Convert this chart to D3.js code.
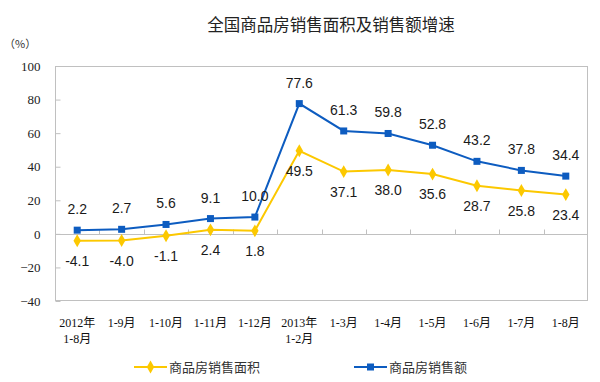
<!DOCTYPE html>
<html><head><meta charset="utf-8">
<script src="https://cdn.jsdelivr.net/npm/d3@7"></script>
<style>body{margin:0;background:#fff;}svg{display:block;}</style>
</head><body>
<svg id="c" width="600" height="382"></svg>
<script>
const categories = [["2012年","1-8月"],["1-9月"],["1-10月"],["1-11月"],["1-12月"],["2013年","1-2月"],["1-3月"],["1-4月"],["1-5月"],["1-6月"],["1-7月"],["1-8月"]];
const areaGrowth = [-4.1,-4.0,-1.1,2.4,1.8,49.5,37.1,38.0,35.6,28.7,25.8,23.4];
const amountGrowth = [2.2,2.7,5.6,9.1,10.0,77.6,61.3,59.8,52.8,43.2,37.8,34.4];
const yTicks = [-40,-20,0,20,40,60,80,100];
const seriesNames = ["商品房销售面积","商品房销售额"];
const title = "全国商品房销售面积及销售额增速";

const svg = d3.select("#c");
const L=55,R=588,T=66,B=301;
const x = d3.scaleBand().domain(d3.range(categories.length)).range([L,R]);
const y = d3.scaleLinear().domain([-40,100]).range([B,T]);
const blue="#0d5cc0", yellow="#fcc800";

svg.append("text").attr("x",331).attr("y",31).attr("text-anchor","middle")
  .attr("font-family","Noto Sans CJK SC").attr("font-size",16.5).attr("fill","#222").text(title);
svg.append("text").attr("x",4).attr("y",48).attr("font-family","Noto Sans CJK SC")
  .attr("font-size",11).attr("fill","#333").text("（%）");

// frame
svg.append("rect").attr("x",L+0.5).attr("y",T+0.5).attr("width",R-L-1).attr("height",B-T-1)
  .attr("fill","none").attr("stroke","#c0c0c0");

// y axis
const yAxis = d3.axisLeft(y).tickValues(yTicks).tickSize(-5).tickPadding(15);
const ya = svg.append("g").attr("transform",`translate(${L+0.5},0)`).call(yAxis);
ya.select(".domain").remove();
ya.selectAll("line").attr("stroke","#c0c0c0");
ya.selectAll("text").attr("font-family","Liberation Serif").attr("font-size",13).attr("fill","#222").attr("x",-15);

// zero line with ticks at boundaries
const y0 = Math.round(y(0))+0.5;
svg.append("line").attr("x1",L).attr("x2",R).attr("y1",y0).attr("y2",y0).attr("stroke","#c0c0c0");
const bounds = d3.range(1,categories.length).map(i=>x(i));
svg.selectAll(".bt").data(bounds).enter().append("line")
  .attr("x1",d=>Math.round(d)+0.5).attr("x2",d=>Math.round(d)+0.5).attr("y1",y0).attr("y2",y0-5).attr("stroke","#c0c0c0");

// x labels
const cx = i=>x(i)+x.bandwidth()/2;
const xl = svg.append("g");
categories.forEach((c,i)=>{
  const t = xl.append("text").attr("x",cx(i)).attr("y",327).attr("text-anchor","middle")
    .attr("font-family","Liberation Serif, Noto Sans CJK SC").attr("font-size",12).attr("fill","#111");
  c.forEach((s,j)=>t.append("tspan").attr("x",cx(i)).attr("dy",j?16:0).text(s));
});

const line = d3.line().x((d,i)=>cx(i)).y(d=>y(d));
svg.append("path").datum(areaGrowth).attr("d",line).attr("fill","none").attr("stroke",yellow).attr("stroke-width",2);
svg.append("path").datum(amountGrowth).attr("d",line).attr("fill","none").attr("stroke",blue).attr("stroke-width",2);

const diamond = d3.symbol().type(d3.symbolDiamond).size(48);
svg.selectAll(".dm").data(areaGrowth).enter().append("path")
  .attr("d",diamond).attr("transform",(d,i)=>`translate(${cx(i)},${y(d)})`).attr("fill",yellow);
svg.selectAll(".sq").data(amountGrowth).enter().append("rect")
  .attr("x",(d,i)=>cx(i)-3.5).attr("y",d=>y(d)-3.5).attr("width",7).attr("height",7).attr("fill",blue);

svg.selectAll(".la").data(areaGrowth).enter().append("text")
  .attr("x",(d,i)=>cx(i)).attr("y",d=>y(d)+25).attr("text-anchor","middle")
  .attr("font-family","Liberation Sans").attr("font-size",14).attr("fill","#1a1a1a").text(d=>d.toFixed(1));
svg.selectAll(".lb").data(amountGrowth).enter().append("text")
  .attr("x",(d,i)=>cx(i)).attr("y",d=>y(d)-16).attr("text-anchor","middle")
  .attr("font-family","Liberation Sans").attr("font-size",14).attr("fill","#1a1a1a").text(d=>d.toFixed(1));

// legend
const lg = [{name:seriesNames[0],c:yellow,x:134,m:"d"},{name:seriesNames[1],c:blue,x:354,m:"s"}];
lg.forEach(o=>{
  const ly=367;
  svg.append("line").attr("x1",o.x).attr("x2",o.x+33).attr("y1",ly).attr("y2",ly).attr("stroke",o.c).attr("stroke-width",2);
  if(o.m==="d") svg.append("path").attr("d",diamond).attr("transform",`translate(${o.x+16.5},${ly})`).attr("fill",o.c);
  else svg.append("rect").attr("x",o.x+13).attr("y",ly-3.5).attr("width",7).attr("height",7).attr("fill",o.c);
  svg.append("text").attr("x",o.x+35).attr("y",ly+4.5).attr("font-family","Noto Sans CJK SC")
    .attr("font-size",13).attr("fill","#333").text(o.name);
});
</script>
</body></html>
